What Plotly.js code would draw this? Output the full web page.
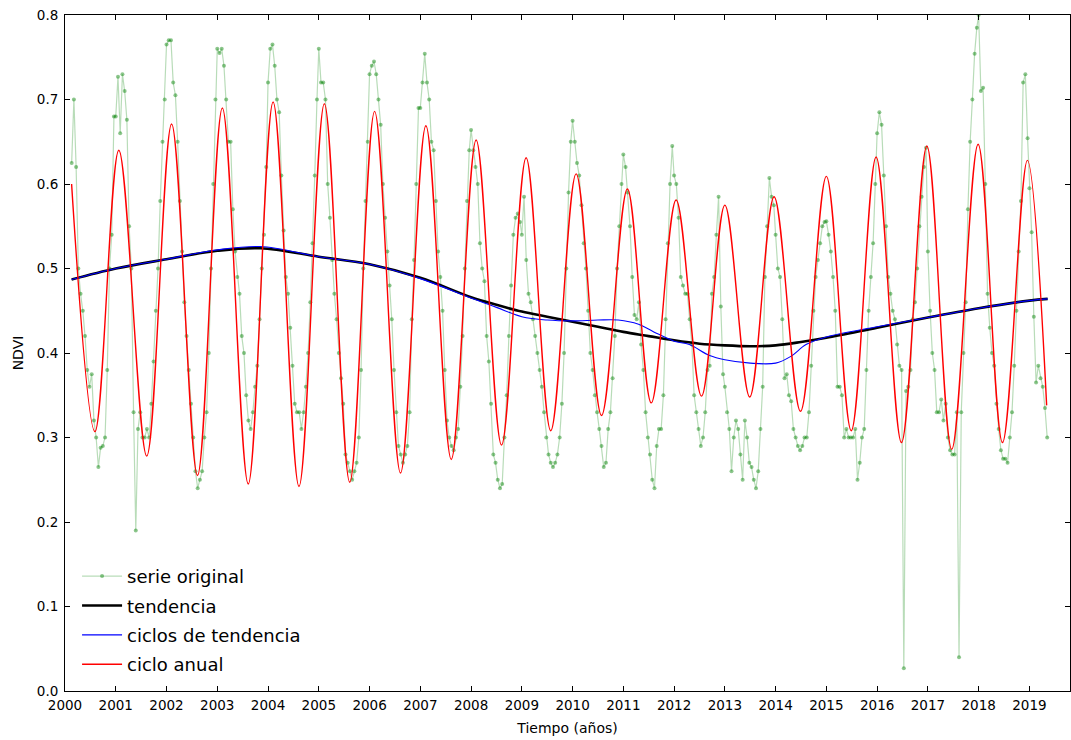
<!DOCTYPE html>
<html>
<head>
<meta charset="utf-8">
<script src="https://cdn.plot.ly/plotly-3.0.1.min.js"></script>
<style>
  html, body { margin: 0; padding: 0; background: #fff; }
  #chart { width: 1071px; height: 740px; }
</style>
</head>
<body>
<div id="chart"></div>
<script>
// ---- Data ----
// 16-day composite days of year (sampling dates of the original series)
const diasCompuesto = [1,17,33,49,65,81,97,113,129,145,161,177,193,209,225,241,257,273,289,305,321,337,353];

// serie original (NDVI), one array per year
const ndvi2000 = [.625,.70,.62,.50,.47,.45,.42,.38,.36,.375,.32,.30,.265,.288,.29,.30,.38,.50,.54,.68];
const ndvi2001 = [.68,.727,.66,.73,.71,.676,.55,.50,.33,.19,.31,.33,.30,.30,.31,.30,.34,.39,.45,.50,.58,.65,.70];
const ndvi2002 = [.765,.77,.77,.72,.705,.65,.58,.52,.46,.42,.38,.34,.30,.26,.24,.25,.26,.30,.33,.40,.50,.60,.70];
const ndvi2003 = [.76,.755,.76,.74,.70,.65,.65,.57,.52,.49,.47,.42,.40,.35,.32,.31,.33,.36,.385,.44,.50,.54,.62];
const ndvi2004 = [.72,.76,.765,.74,.70,.685,.61,.545,.49,.47,.43,.385,.34,.33,.33,.31,.33,.36,.40,.46,.53,.61,.70];
const ndvi2005 = [.76,.72,.72,.70,.60,.56,.51,.47,.44,.40,.37,.34,.28,.27,.26,.25,.26,.27,.30,.38,.50,.58,.65];
const ndvi2006 = [.73,.74,.745,.73,.70,.67,.60,.56,.52,.48,.44,.38,.33,.29,.28,.27,.28,.29,.33,.44,.51,.60,.69];
const ndvi2007 = [.69,.72,.754,.72,.70,.65,.64,.58,.52,.49,.45,.38,.32,.30,.29,.285,.30,.31,.36,.42,.50,.58,.64];
const ndvi2008 = [.664,.64,.62,.60,.53,.50,.485,.42,.39,.34,.28,.27,.25,.24,.245,.30,.35,.42,.48,.54,.56,.565,.555];
const ndvi2009 = [.54,.585,.51,.47,.46,.44,.42,.40,.38,.36,.33,.30,.28,.27,.265,.27,.28,.30,.34,.40,.50,.59,.65];
const ndvi2010 = [.675,.65,.625,.61,.575,.53,.50,.45,.40,.38,.35,.33,.31,.29,.265,.27,.31,.33,.37,.42,.50,.55,.60];
const ndvi2011 = [.635,.62,.59,.55,.49,.445,.44,.46,.41,.38,.33,.30,.28,.25,.24,.29,.31,.31,.35,.44,.53,.60,.645];
const ndvi2012 = [.61,.60,.56,.49,.48,.47,.47,.44,.41,.35,.33,.31,.29,.30,.33,.38,.385,.47,.49,.54,.585,.455,.375];
const ndvi2013 = [.36,.33,.31,.26,.30,.32,.31,.28,.25,.32,.30,.27,.265,.25,.24,.26,.31,.36,.49,.55,.607,.585,.575];
const ndvi2014 = [.54,.50,.49,.44,.37,.375,.35,.343,.31,.30,.29,.285,.29,.30,.30,.33,.385,.45,.49,.51,.53,.55,.555];
const ndvi2015 = [.556,.54,.52,.49,.45,.36,.36,.35,.30,.31,.30,.30,.30,.31,.25,.27,.30,.31,.38,.45,.49,.53,.60];
const ndvi2016 = [.66,.685,.67,.61,.55,.49,.47,.45,.44,.41,.385,.38,.027,.355,.36,.38,.44,.46,.50,.55,.585,.62,.643];
const ndvi2017 = [.52,.45,.40,.38,.33,.33,.345,.32,.34,.30,.285,.28,.28,.33,.04,.33,.40,.46,.57,.65,.70,.754,.785];
const ndvi2018 = [.80,.71,.714,.60,.47,.43,.40,.385,.34,.31,.285,.275,.275,.27,.30,.33,.385,.45,.52,.58,.72,.73,.654];
const ndvi2019 = [.595,.543,.443,.365,.385,.37,.36,.335,.30];

const anios = [2000,2001,2002,2003,2004,2005,2006,2007,2008,2009,2010,2011,2012,2013,2014,2015,2016,2017,2018,2019];
const ndviPorAnio = [ndvi2000,ndvi2001,ndvi2002,ndvi2003,ndvi2004,ndvi2005,ndvi2006,ndvi2007,ndvi2008,ndvi2009,
                     ndvi2010,ndvi2011,ndvi2012,ndvi2013,ndvi2014,ndvi2015,ndvi2016,ndvi2017,ndvi2018,ndvi2019];

// tendencia (decimal year, NDVI)
const tendenciaT = [2000.13,2001,2002,2003,2003.85,2005,2006,2007,2008,2008.5,2009,2009.5,2010,2010.5,2011,2011.5,2012,2012.5,2013,2013.5,2014,2014.5,2015,2016,2017,2018,2019,2019.36];
const tendenciaV = [.487,.50,.511,.521,.524,.514,.505,.489,.466,.457,.449,.443,.437,.431,.425,.42,.415,.411,.409,.408,.409,.413,.418,.43,.442,.453,.462,.464];

// ciclos de tendencia
const ciclosT = [2000.13,2001,2002,2003,2003.85,2005,2006,2007,2008,2008.5,2009,2009.5,2010,2010.5,2010.9,2011.3,2011.6,2012,2012.3,2012.7,2013,2013.5,2014,2014.3,2014.6,2015,2016,2017,2018,2019,2019.36];
const ciclosV = [.487,.50,.511,.522,.526,.514,.505,.488,.465,.454,.443,.439,.438,.439,.439,.434,.425,.414,.41,.397,.392,.388,.388,.396,.41,.419,.431,.442,.453,.462,.464];

// ciclo anual: start, alternating troughs/peaks, end
const cicloAnualT = [2000.13,2000.59,2001.06,2001.61,2002.1,2002.61,2003.1,2003.61,2004.1,2004.61,2005.11,2005.61,2006.1,2006.61,2007.11,2007.61,2008.1,2008.6,2009.085,2009.57,2010.07,2010.57,2011.08,2011.55,2012.04,2012.54,2013.0,2013.49,2013.97,2014.49,2015.0,2015.49,2015.98,2016.48,2016.98,2017.47,2017.99,2018.47,2018.96,2019.34];
const cicloAnualV = [.60,.307,.640,.278,.671,.255,.690,.245,.697,.242,.695,.247,.686,.258,.669,.274,.652,.291,.631,.308,.612,.326,.594,.341,.581,.349,.575,.348,.585,.331,.609,.308,.632,.294,.645,.286,.647,.294,.628,.338];

const ticksX = [2000,2001,2002,2003,2004,2005,2006,2007,2008,2009,2010,2011,2012,2013,2014,2015,2016,2017,2018,2019];

// ---- build original-series dates ----
const serieX = [], serieY = [];
anios.forEach(function (a, i) {
  const vals = ndviPorAnio[i];
  const off = (a === 2000) ? diasCompuesto.length - vals.length : 0;
  vals.forEach(function (v, j) {
    serieX.push(a + (diasCompuesto[j + off] - 1) / 365);
    serieY.push(v);
  });
});

const FONT = '"DejaVu Sans", "Liberation Sans", sans-serif';

const traces = [
  {
    x: serieX, y: serieY, type: 'scatter', mode: 'lines+markers',
    name: 'serie original', legendgroup: 'a',
    line: { color: 'rgba(0,128,0,0.28)', width: 1.2 },
    marker: { color: 'rgba(0,128,0,0.45)', size: 4, line: { width: 0 } }
  },
  {
    x: tendenciaT, y: tendenciaV, type: 'scatter', mode: 'lines',
    name: 'tendencia', legendgroup: 'b',
    line: { color: '#000000', width: 2.6, shape: 'spline', smoothing: 1 }
  },
  {
    x: ciclosT, y: ciclosV, type: 'scatter', mode: 'lines',
    name: 'ciclos de tendencia', legendgroup: 'c',
    line: { color: '#0000ff', width: 1.1, shape: 'spline', smoothing: 1 }
  },
  {
    x: cicloAnualT, y: cicloAnualV, type: 'scatter', mode: 'lines',
    name: 'ciclo anual', legendgroup: 'd',
    line: { color: '#ff0000', width: 1.4, shape: 'spline', smoothing: 1 }
  }
];

const axisCommon = {
  showgrid: false, zeroline: false,
  showline: true, linecolor: '#000', linewidth: 1, mirror: 'allticks',
  ticks: 'inside', ticklen: 5, tickwidth: 1, tickcolor: '#000'
};

const layout = {
  width: 1071, height: 740,
  margin: { l: 65, r: 1, t: 15, b: 49, pad: 0 },
  paper_bgcolor: '#fff', plot_bgcolor: '#fff',
  font: { family: FONT, color: '#000', size: 13.5 },
  showlegend: true,
  legend: {
    x: 0.012, y: 0.012, xanchor: 'left', yanchor: 'bottom',
    bgcolor: 'rgba(0,0,0,0)', borderwidth: 0,
    font: { family: FONT, size: 18, color: '#000' },
    itemwidth: 40,
    traceorder: 'grouped', tracegroupgap: 3
  },
  xaxis: Object.assign({}, axisCommon, {
    range: [2000, 2019.8], tickmode: 'array', tickvals: ticksX, ticktext: ticksX.map(String),
    tickfont: { family: FONT, size: 13.5 }, ticklabelstandoff: 2,
    title: { text: 'Tiempo (años)', font: { family: FONT, size: 14 }, standoff: 10 }
  }),
  yaxis: Object.assign({}, axisCommon, {
    range: [0, 0.8], dtick: 0.1, tick0: 0, tickformat: '.1f',
    tickfont: { family: FONT, size: 13.5 }, ticklabelstandoff: 3,
    title: { text: 'NDVI', font: { family: FONT, size: 14 }, standoff: 9 }
  })
};

Plotly.newPlot('chart', traces, layout, { displayModeBar: false, staticPlot: true });
</script>
</body>
</html>
